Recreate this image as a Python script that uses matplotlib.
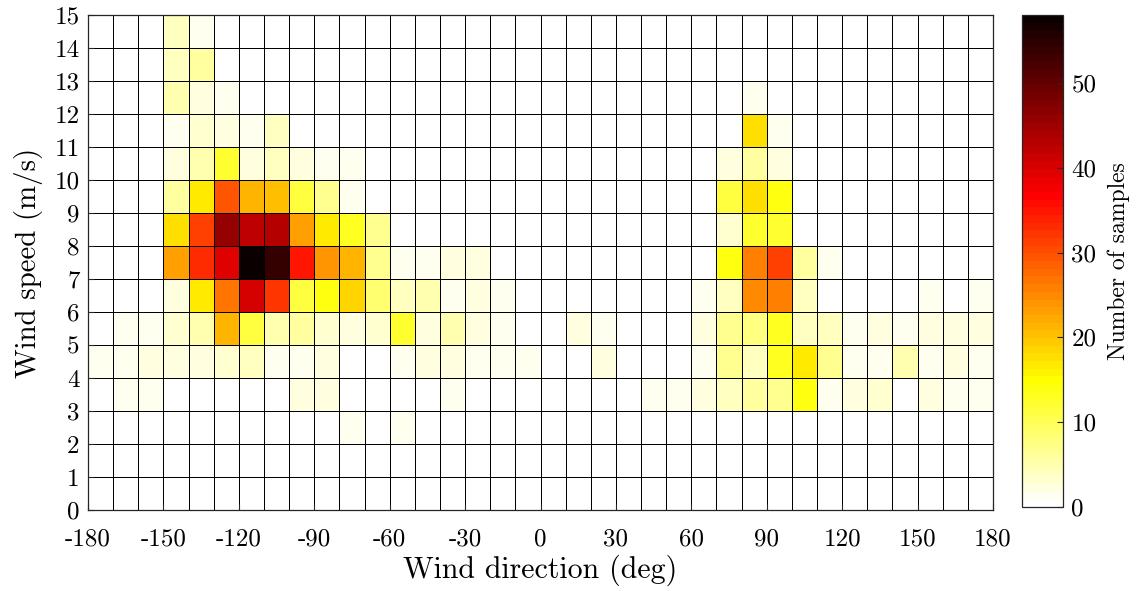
import numpy as np
import matplotlib
matplotlib.use('Agg')
from matplotlib import pyplot as plt
from matplotlib.colors import ListedColormap, Normalize

plt.rcParams['font.family'] = 'cmr10'
plt.rcParams['axes.formatter.use_mathtext'] = True
plt.rcParams['mathtext.fontset'] = 'cm'

# bin edges
direction_edges = np.arange(-180, 181, 10)
speed_edges = np.arange(0, 16, 1)

# sample counts per wind speed bin (m/s), one value per 10 deg direction bin
speed_14 = [0, 0, 0, 4, 1, 0, 0, 0, 0, 0, 0, 0, 0, 0, 0, 0, 0, 0, 0, 0, 0, 0, 0, 0, 0, 0, 0, 0, 0, 0, 0, 0, 0, 0, 0, 0]
speed_13 = [0, 0, 0, 4, 6, 0, 0, 0, 0, 0, 0, 0, 0, 0, 0, 0, 0, 0, 0, 0, 0, 0, 0, 0, 0, 0, 0, 0, 0, 0, 0, 0, 0, 0, 0, 0]
speed_12 = [0, 0, 0, 5, 2, 1, 0, 0, 0, 0, 0, 0, 0, 0, 0, 0, 0, 0, 0, 0, 0, 0, 0, 0, 0, 0, 1, 0, 0, 0, 0, 0, 0, 0, 0, 0]
speed_11 = [0, 0, 0, 1, 3, 2, 1, 4, 0, 0, 0, 0, 0, 0, 0, 0, 0, 0, 0, 0, 0, 0, 0, 0, 0, 0, 18, 1, 0, 0, 0, 0, 0, 0, 0, 0]
speed_10 = [0, 0, 0, 2, 5, 12, 2, 4, 2, 1, 1, 0, 0, 0, 0, 0, 0, 0, 0, 0, 0, 0, 0, 0, 0, 2, 6, 2, 0, 0, 0, 0, 0, 0, 0, 0]
speed_9 = [0, 0, 0, 6, 17, 29, 21, 20, 11, 7, 1, 0, 0, 0, 0, 0, 0, 0, 0, 0, 0, 0, 0, 0, 0, 11, 18, 14, 0, 0, 0, 0, 0, 0, 0, 0]
speed_8 = [0, 0, 0, 18, 31, 46, 42, 43, 23, 17, 13, 7, 0, 0, 0, 0, 0, 0, 0, 0, 0, 0, 0, 0, 0, 3, 12, 12, 0, 0, 0, 0, 0, 0, 0, 0]
speed_7 = [0, 0, 0, 23, 33, 39, 58, 54, 35, 24, 21, 7, 1, 1, 2, 2, 0, 0, 0, 0, 0, 0, 0, 0, 0, 14, 26, 31, 6, 1, 0, 0, 0, 0, 0, 0]
speed_6 = [0, 0, 0, 2, 17, 27, 40, 32, 11, 14, 19, 9, 4, 5, 1, 2, 1, 0, 0, 0, 0, 0, 0, 0, 1, 4, 25, 26, 4, 0, 0, 0, 0, 1, 0, 1]
speed_5 = [0, 1, 1, 3, 5, 21, 11, 5, 6, 3, 2, 3, 12, 2, 5, 2, 1, 0, 0, 2, 1, 0, 0, 0, 2, 7, 8, 13, 4, 4, 1, 2, 1, 2, 2, 2]
speed_4 = [1, 1, 2, 2, 2, 3, 4, 1, 1, 2, 0, 0, 1, 2, 2, 1, 1, 1, 0, 0, 2, 0, 0, 0, 1, 7, 4, 13, 17, 7, 1, 1, 5, 1, 2, 1]
speed_3 = [0, 1, 1, 0, 0, 0, 0, 0, 2, 2, 0, 0, 0, 0, 1, 0, 0, 0, 0, 0, 0, 0, 1, 1, 2, 4, 6, 7, 14, 1, 2, 3, 0, 2, 1, 1]
speed_2 = [0, 0, 0, 0, 0, 0, 0, 0, 0, 0, 1, 0, 1, 0, 0, 0, 0, 0, 0, 0, 0, 0, 0, 0, 0, 0, 0, 0, 0, 0, 0, 0, 0, 0, 0, 0]
speed_1 = [0] * 36
speed_0 = [0] * 36

x_ticks = [-180, -150, -120, -90, -60, -30, 0, 30, 60, 90, 120, 150, 180]
y_ticks = list(range(0, 16))
cbar_ticks = [0, 10, 20, 30, 40, 50]


def matlab_hot(n=64):
    # same construction as MATLAB's hot(n)
    n1 = int(3 * n / 8)
    r = np.concatenate([np.arange(1, n1 + 1) / n1, np.ones(n - n1)])
    g = np.concatenate([np.zeros(n1), np.arange(1, n1 + 1) / n1, np.ones(n - 2 * n1)])
    b = np.concatenate([np.zeros(2 * n1), np.arange(1, n - 2 * n1 + 1) / (n - 2 * n1)])
    return np.column_stack([r, g, b])


counts = np.array([speed_0, speed_1, speed_2, speed_3, speed_4, speed_5, speed_6, speed_7,
                   speed_8, speed_9, speed_10, speed_11, speed_12, speed_13, speed_14])

cmap = ListedColormap(matlab_hot(64)[::-1])
norm = Normalize(vmin=0, vmax=counts.max())

fig = plt.figure(figsize=(11.36, 5.91), dpi=100)
ax = fig.add_axes([0.0775, 0.137, 0.7966, 0.8376])
mesh = ax.pcolormesh(direction_edges, speed_edges, counts, cmap=cmap, norm=norm,
                     edgecolors='k', linewidth=0.7)
ax.set_xlim(-180, 180)
ax.set_ylim(0, 15)
ax.set_xticks(x_ticks)
ax.set_xticklabels([str(t) for t in x_ticks])
ax.set_yticks(y_ticks)
ax.set_yticklabels([str(t) for t in y_ticks])
ax.tick_params(direction='in', length=4, labelsize=18, pad=6, color='#262626')
ax.tick_params(axis='x', pad=13)
for s in ax.spines.values():
    s.set_color('#262626')
    s.set_linewidth(0.9)
ax.set_xlabel('Wind direction (deg)', fontsize=21.5, labelpad=3)
ax.set_ylabel('Wind speed (m/s)', fontsize=20.8, labelpad=8)

cax = fig.add_axes([0.8996, 0.142, 0.0361, 0.8325])
cb = fig.colorbar(mesh, cax=cax)
cb.set_ticks(cbar_ticks)
cb.set_ticklabels([str(t) for t in cbar_ticks])
cax.tick_params(direction='in', length=4, labelsize=18, pad=6, color='#262626')
cb.outline.set_linewidth(0.9)
cb.outline.set_edgecolor('#262626')
cb.set_label('Number of samples', fontsize=17, labelpad=8)

fig.savefig('out.png', dpi=100)
